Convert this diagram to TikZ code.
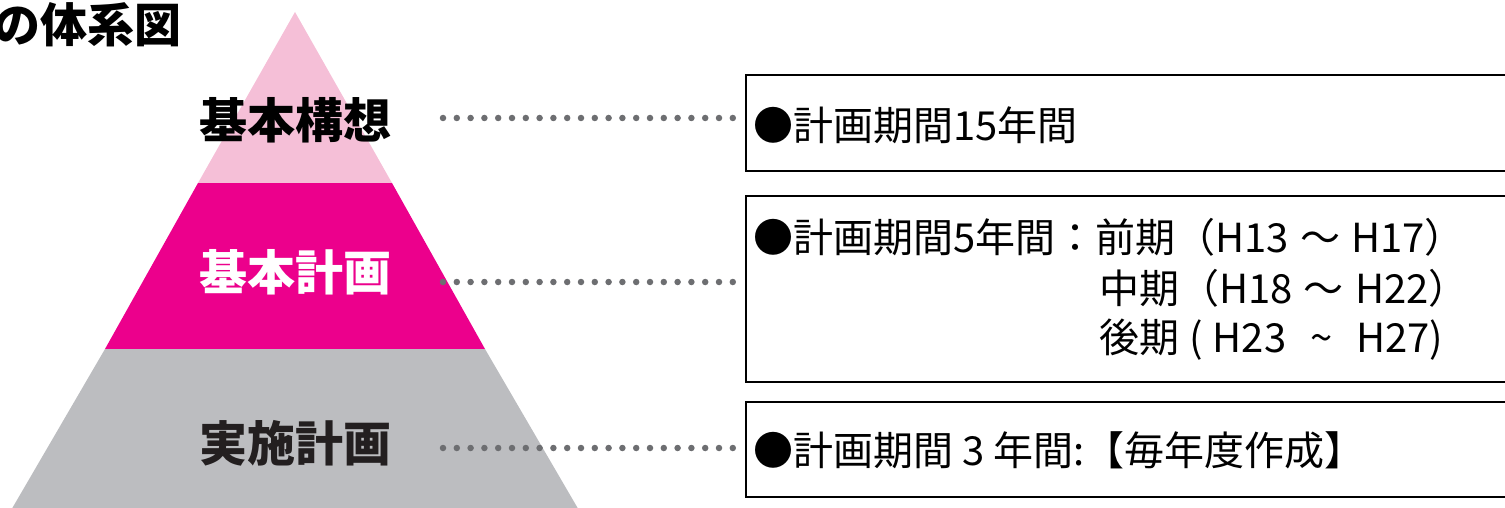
\documentclass[tikz,border=0pt]{standalone}
\usepackage{fontspec}
\setmainfont{Noto Sans CJK JP}
\newfontfamily\jp{Noto Sans CJK JP}
\definecolor{pinkA}{HTML}{F5BFD7}
\definecolor{magA}{HTML}{EC008C}
\definecolor{grayA}{HTML}{BCBDC0}
\definecolor{dotA}{HTML}{6D6E71}
\definecolor{inkA}{HTML}{231F20}
\tikzset{
  lvl/.style={font=\jp\bfseries\fontsize{48}{48}\selectfont, inner sep=0pt},
  boxtxt/.style={font=\jp\fontsize{40}{40}\selectfont, inner sep=0pt, anchor=west},
  infobox/.style={draw=black, line width=2pt},
  dots/.style={dotA, line width=6.5pt, line cap=round, dash pattern=on 0pt off 13.8pt},
}
\begin{document}
\begin{tikzpicture}[x=1pt,y=-1pt]
\useasboundingbox (0,0) rectangle (1505,508);
% pyramid
\fill[pinkA] (295,12) -- (392,183) -- (198,183) -- cycle;
\fill[magA] (198,183) -- (392,183) -- (485,349) -- (105,349) -- cycle;
\fill[grayA] (105,349) -- (485,349) -- (580,512) -- (10,512) -- cycle;
% title
\node[font=\jp\bfseries\fontsize{47}{47}\selectfont, inner sep=0pt, anchor=east] (title) at (182,25) {の体系図};
% level labels
\node[lvl, text=black] (l1) at (295,120) {基本構想};
\node[lvl, text=white] (l2) at (295,272) {基本計画};
\node[lvl, text=inkA] (l3) at (295,443) {実施計画};
% boxes
\node[infobox, minimum width=780pt, minimum height=96pt, anchor=north west, inner sep=0pt] (b1) at (745,74) {};
\node[infobox, minimum width=780pt, minimum height=186pt, anchor=north west, inner sep=0pt] (b2) at (745,195) {};
\node[infobox, minimum width=780pt, minimum height=95pt, anchor=north west, inner sep=0pt] (b3) at (745,401) {};
% box texts
\node[boxtxt] (t1) at (753,125) {●計画期間15年間};
\node[boxtxt] (t2a) at (753,237) {●計画期間5年間：前期（H13\hspace{0.28em}～\hspace{0.28em}H17）};
\node[boxtxt] (t2b) at (1099,288) {中期（H18\hspace{0.28em}～\hspace{0.28em}H22）};
\node[boxtxt] (t2c) at (1099,340) {後期\hspace{0.25em}(\hspace{0.25em}H23\hspace{0.6em}\textasciitilde\hspace{0.6em}H27)};
\node[boxtxt] (t3) at (753,450) {●計画期間 3 年間:【毎年度作成】};
% dotted connectors
\coordinate (d1s) at (443,118); \coordinate (d1e) at (733,118);
\coordinate (d2s) at (443,282); \coordinate (d2e) at (733,282);
\coordinate (d3s) at (443,448); \coordinate (d3e) at (733,448);
\draw[dots] (d1s) -- (d1e);
\draw[dots] (d2s) -- (d2e);
\draw[dots] (d3s) -- (d3e);
\end{tikzpicture}
\end{document}
